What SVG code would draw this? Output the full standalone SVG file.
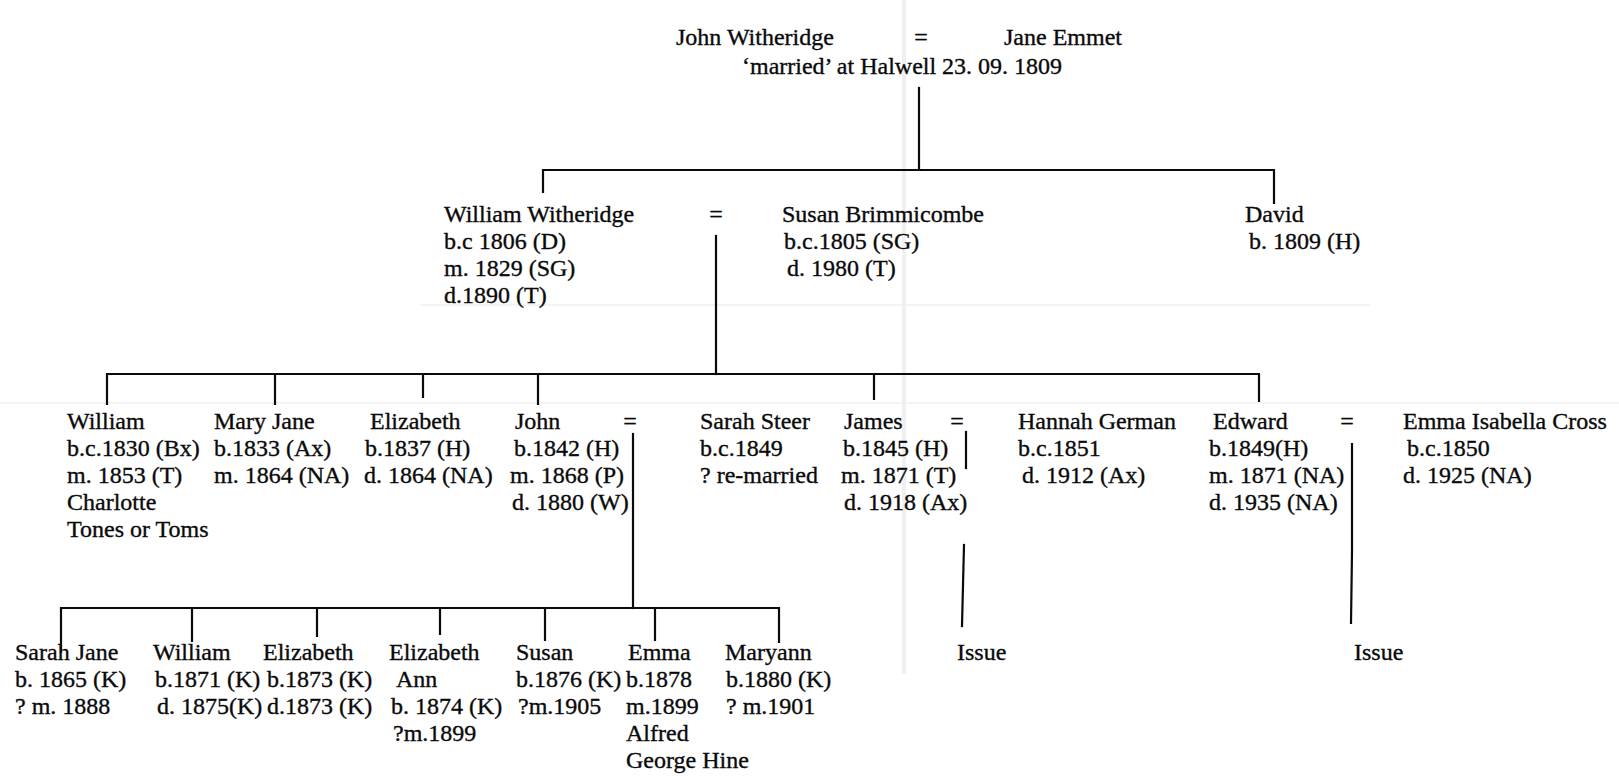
<svg xmlns="http://www.w3.org/2000/svg" width="1619" height="782" viewBox="0 0 1619 782">
<style>
text{font-family:"Liberation Serif","Times New Roman",serif;font-size:24px;fill:#0a0a0a;stroke:#0a0a0a;stroke-width:0.35}
.eq{text-anchor:middle}
.ln{stroke:#0a0a0a;stroke-width:2.2;fill:none;stroke-linecap:square}
.fold{stroke:#f0f0f0;fill:none}
</style>
<rect width="1619" height="782" fill="#ffffff"/>
<g id="scan-folds" class="fold">
<path d="M904 0V674" stroke-width="4"/>
<path d="M0 403H1619" stroke-width="1.5"/>
<path d="M420 305H1370" stroke-width="1.5"/>
</g>
<g id="connectors" class="ln">
<path d="M919 88V169"/>
<path d="M543 192V170H1274V203"/>
<path d="M716 236V374"/>
<path d="M107 404V374H1259V401"/>
<path d="M275 374V404M423 374V397M538 374V404M874 374V399"/>
<path d="M633 434V608"/>
<path d="M61 652V608H779V642"/>
<path d="M192 608V641M317 608V636M440 608V634M545 608V640M655 608V640"/>
<path d="M966 432V468"/>
<path d="M964 545L962 626"/>
<path d="M1352 444V552L1351 623"/>
</g>
<g id="n-john-jane">
<text x="676" y="45">John Witheridge</text>
<text class="eq" x="921" y="45">=</text>
<text x="1004" y="45">Jane Emmet</text>
<text x="742" y="74">‘married’ at Halwell 23. 09. 1809</text>
</g>
<g id="n-william-susan">
<text x="444" y="222">William Witheridge</text>
<text x="444" y="249">b.c 1806 (D)</text>
<text x="444" y="276">m. 1829 (SG)</text>
<text x="444" y="303">d.1890 (T)</text>
<text class="eq" x="716" y="222">=</text>
<text x="782" y="222">Susan Brimmicombe</text>
<text x="784" y="249">b.c.1805 (SG)</text>
<text x="787" y="276">d. 1980 (T)</text>
</g>
<g id="n-david">
<text x="1245" y="222">David</text>
<text x="1249" y="249">b. 1809 (H)</text>
</g>
<g id="n-william2">
<text x="67" y="429">William</text>
<text x="67" y="456">b.c.1830 (Bx)</text>
<text x="67" y="483">m. 1853 (T)</text>
<text x="67" y="510">Charlotte</text>
<text x="67" y="537">Tones or Toms</text>
</g>
<g id="n-maryjane">
<text x="214" y="429">Mary Jane</text>
<text x="214" y="456">b.1833 (Ax)</text>
<text x="214" y="483">m. 1864 (NA)</text>
</g>
<g id="n-elizabeth">
<text x="370" y="429">Elizabeth</text>
<text x="365" y="456">b.1837 (H)</text>
<text x="364" y="483">d. 1864 (NA)</text>
</g>
<g id="n-john-sarah">
<text x="515" y="429">John</text>
<text class="eq" x="630" y="429">=</text>
<text x="514" y="456">b.1842 (H)</text>
<text x="510" y="483">m. 1868 (P)</text>
<text x="512" y="510">d. 1880 (W)</text>
<text x="700" y="429">Sarah Steer</text>
<text x="700" y="456">b.c.1849</text>
<text x="700" y="483">? re-married</text>
</g>
<g id="n-james-hannah">
<text x="844" y="429">James</text>
<text class="eq" x="957" y="429">=</text>
<text x="843" y="456">b.1845 (H)</text>
<text x="841" y="483">m. 1871 (T)</text>
<text x="844" y="510">d. 1918 (Ax)</text>
<text x="1018" y="429">Hannah German</text>
<text x="1018" y="456">b.c.1851</text>
<text x="1022" y="483">d. 1912 (Ax)</text>
</g>
<g id="n-edward-emma">
<text x="1213" y="429">Edward</text>
<text class="eq" x="1347" y="429">=</text>
<text x="1209" y="456">b.1849(H)</text>
<text x="1209" y="483">m. 1871 (NA)</text>
<text x="1209" y="510">d. 1935 (NA)</text>
<text x="1403" y="429">Emma Isabella Cross</text>
<text x="1407" y="456">b.c.1850</text>
<text x="1403" y="483">d. 1925 (NA)</text>
</g>
<g id="n-sarahjane">
<text x="15" y="660">Sarah Jane</text>
<text x="15" y="687">b. 1865 (K)</text>
<text x="15" y="714">? m. 1888</text>
</g>
<g id="n-william3">
<text x="153" y="660">William</text>
<text x="155" y="687">b.1871 (K)</text>
<text x="157" y="714">d. 1875(K)</text>
</g>
<g id="n-elizabeth3">
<text x="263" y="660">Elizabeth</text>
<text x="267" y="687">b.1873 (K)</text>
<text x="267" y="714">d.1873 (K)</text>
</g>
<g id="n-elizabeth-ann">
<text x="389" y="660">Elizabeth</text>
<text x="396" y="687">Ann</text>
<text x="391" y="714">b. 1874 (K)</text>
<text x="393" y="741">?m.1899</text>
</g>
<g id="n-susan3">
<text x="516" y="660">Susan</text>
<text x="516" y="687">b.1876 (K)</text>
<text x="518" y="714">?m.1905</text>
</g>
<g id="n-emma3">
<text x="628" y="660">Emma</text>
<text x="626" y="687">b.1878</text>
<text x="626" y="714">m.1899</text>
<text x="626" y="741">Alfred</text>
<text x="626" y="768">George Hine</text>
</g>
<g id="n-maryann">
<text x="725" y="660">Maryann</text>
<text x="726" y="687">b.1880 (K)</text>
<text x="726" y="714">? m.1901</text>
</g>
<g id="n-issue-james">
<text x="957" y="660">Issue</text>
</g>
<g id="n-issue-edward">
<text x="1354" y="660">Issue</text>
</g>
</svg>
